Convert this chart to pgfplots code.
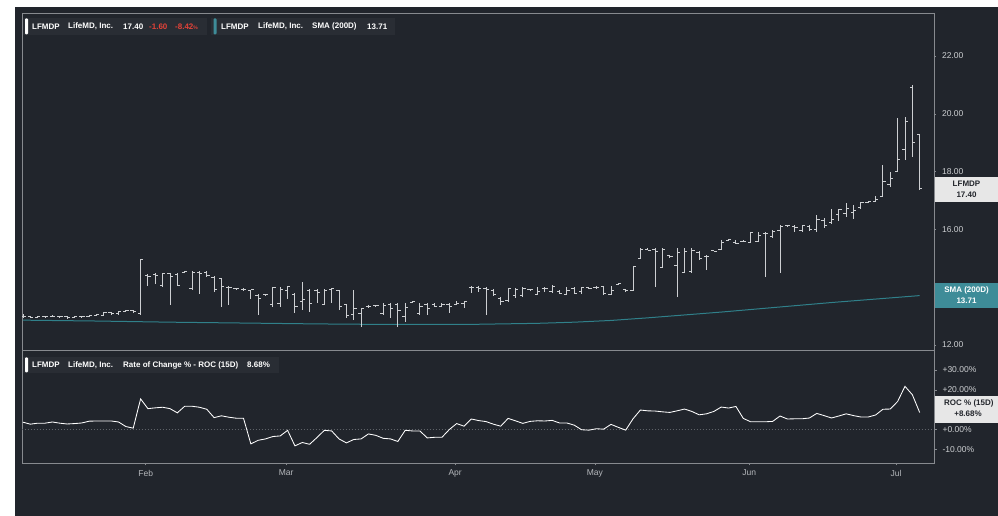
\documentclass[border=0pt]{standalone}
\usepackage{fontspec}
\setmainfont{Liberation Sans}
\usepackage{pgfplots}
\usepackage{pgfplotstable}
\pgfplotsset{compat=1.18}
\definecolor{bg}{RGB}{33,37,44}
\definecolor{legbg}{RGB}{41,45,52}
\definecolor{framecol}{RGB}{135,138,143}
\definecolor{barcol}{RGB}{205,207,210}
\definecolor{ticktext}{RGB}{205,207,210}
\definecolor{monthcol}{RGB}{180,183,187}
\definecolor{tealbox}{RGB}{62,140,152}
\definecolor{smaline}{RGB}{48,128,138}
\definecolor{negred}{RGB}{226,66,56}
\definecolor{lblbox}{RGB}{231,231,231}
\definecolor{lbltext}{RGB}{35,38,44}
\definecolor{zerocol}{RGB}{95,99,105}

\pgfplotstableread{
i o h l c
0 13.00 13.08 12.95 12.98
1 12.98 13.00 12.94 12.96
2 12.96 13.02 12.95 13.00
3 13.00 13.02 12.96 12.98
4 12.98 13.03 12.96 13.00
5 13.00 13.02 12.95 12.98
6 12.98 12.99 12.90 12.97
7 12.97 13.02 12.95 13.00
8 13.00 13.01 12.94 12.99
9 12.99 13.03 12.97 13.02
10 13.02 13.06 13.00 13.05
11 13.02 13.14 13.00 13.12
12 13.12 13.14 13.05 13.10
13 13.08 13.18 13.05 13.15
14 13.15 13.22 13.14 13.18
15 13.18 13.20 13.10 13.17
16 13.10 14.97 13.04 14.95
17 14.42 14.45 14.05 14.38
18 14.45 14.48 14.10 14.41
19 14.05 14.50 14.00 14.47
20 14.48 14.50 13.40 14.36
21 14.45 14.50 14.05 14.07
22 14.50 14.55 14.48 14.53
23 13.95 14.55 13.90 14.52
24 14.50 14.55 13.75 14.49
25 14.52 14.55 14.38 14.39
26 14.35 14.38 13.85 13.92
27 14.30 14.32 13.32 14.02
28 14.00 14.05 13.40 13.98
29 13.96 13.98 13.90 13.94
30 13.93 13.96 13.88 13.93
31 13.90 13.92 13.60 13.91
32 13.70 13.78 13.05 13.62
33 13.75 13.78 13.70 13.75
34 13.40 14.00 13.30 13.98
35 13.45 14.00 13.30 13.91
36 13.90 14.05 13.60 14.03
37 13.75 13.80 13.10 13.35
38 13.50 14.18 13.21 13.59
39 13.90 13.95 13.15 13.43
40 13.90 13.95 13.45 13.83
41 13.40 13.95 13.40 13.88
42 13.92 13.96 13.45 13.94
43 13.90 13.92 13.20 13.34
44 13.40 13.42 12.95 13.02
45 13.05 13.90 12.87 13.25
46 13.10 13.28 12.62 13.27
47 13.35 13.39 13.30 13.33
48 13.38 13.40 13.33 13.37
49 13.10 13.46 13.04 13.38
50 13.40 13.46 12.95 13.27
51 13.40 13.46 12.62 13.20
52 13.00 13.46 12.80 13.31
53 13.48 13.52 13.44 13.51
54 13.10 13.46 13.05 13.35
55 13.40 13.46 13.05 13.26
56 13.40 13.46 13.30 13.35
57 13.35 13.46 13.30 13.41
58 13.40 13.46 13.12 13.35
59 13.40 13.52 13.40 13.42
60 13.45 13.52 13.28 13.49
61 14.00 14.05 13.80 13.99
62 14.00 14.03 13.85 13.94
63 13.95 14.00 13.04 13.92
64 13.90 13.95 13.70 13.75
65 13.60 13.65 13.40 13.51
66 13.55 13.95 13.49 13.95
67 13.70 13.98 13.63 13.91
68 13.70 14.00 13.65 13.94
69 13.92 13.95 13.90 13.91
70 13.75 14.00 13.72 13.86
71 13.95 14.00 13.85 13.94
72 13.85 14.08 13.80 14.04
73 13.85 13.90 13.75 13.80
74 13.75 14.00 13.72 13.88
75 13.95 14.00 13.75 13.80
76 13.85 14.00 13.78 13.99
77 14.00 14.02 13.95 13.96
78 14.00 14.05 13.95 13.99
79 14.02 14.05 13.72 13.79
80 13.75 14.05 13.72 13.87
81 14.10 14.16 14.08 14.12
82 13.92 13.95 13.86 13.88
83 13.90 14.72 13.88 14.71
84 15.00 15.34 14.98 15.29
85 15.30 15.34 15.28 15.28
86 15.30 15.34 14.00 15.25
87 14.70 15.34 14.67 15.30
88 15.10 15.12 15.00 15.05
89 14.75 15.34 13.66 15.20
90 14.50 15.34 14.50 15.24
91 14.55 15.34 14.50 15.28
92 15.20 15.25 14.95 14.98
93 15.05 15.10 14.60 15.08
94 15.28 15.30 15.25 15.25
95 15.30 15.64 15.28 15.55
96 15.62 15.66 15.60 15.64
97 15.55 15.62 15.50 15.52
98 15.60 15.62 15.58 15.58
99 15.55 15.92 15.54 15.90
100 15.60 15.92 15.55 15.80
101 15.85 15.92 14.36 15.86
102 15.75 15.98 15.70 15.94
103 15.95 16.16 14.50 16.10
104 16.14 16.16 16.10 16.12
105 16.10 16.16 15.90 16.08
106 15.95 16.16 15.90 16.12
107 16.10 16.16 15.95 16.01
108 16.00 16.50 15.92 16.35
109 16.30 16.40 16.05 16.13
110 16.25 16.70 16.20 16.36
111 16.50 16.72 16.30 16.68
112 16.55 16.90 16.44 16.74
113 16.60 16.85 16.35 16.65
114 16.75 16.95 16.70 16.92
115 16.93 16.96 16.90 16.95
116 16.95 17.16 16.95 17.05
117 17.15 18.24 17.13 17.65
118 17.55 18.00 17.48 17.75
119 18.00 19.86 18.00 18.41
120 18.76 19.90 18.41 19.74
121 20.90 21.00 18.50 19.00
122 19.28 19.30 17.37 17.40
}\ohlc

\pgfplotstableread{
i s
0 12.86
10 12.83
20 12.79
30 12.76
40 12.73
50 12.71
60 12.71
70 12.75
75 12.79
80 12.85
85 12.94
90 13.04
95 13.14
100 13.25
105 13.36
110 13.47
115 13.57
120 13.67
122 13.71
}\sma

\pgfplotstableread{
i r
0 3.8
1 2.8
2 3.3
3 3.3
4 3.9
5 3.3
6 2.9
7 3.1
8 3.4
9 4.3
10 4.4
11 4.4
12 4.4
13 3.9
14 1.6
15 0.8
16 15.5
17 10.6
18 11.0
19 11.3
20 10.6
21 8.5
22 11.8
23 11.8
24 11.3
25 10.3
26 6.1
27 7.0
28 6.3
29 5.8
30 5.8
31 -7.1
32 -5.3
33 -4.6
34 -3.4
35 -3.1
36 -0.3
37 -8.1
38 -6.4
39 -7.3
40 -3.9
41 -0.3
42 -0.6
43 -4.6
44 -6.6
45 -4.9
46 -4.6
47 -2.1
48 -2.8
49 -4.3
50 -4.6
51 -5.9
52 -0.3
53 -0.6
54 -0.6
55 -4.1
56 -3.8
57 -3.8
58 0.1
59 3.1
60 1.8
61 5.4
62 4.6
63 4.1
64 2.8
65 1.8
66 5.7
67 4.5
68 3.2
69 4.2
70 4.5
71 4.4
72 4.7
73 3.4
74 3.4
75 2.3
76 0.0
77 -0.2
78 0.5
79 0.3
80 2.7
81 1.2
82 -0.2
83 5.5
84 9.9
85 9.5
86 9.4
87 9.0
88 8.7
89 9.5
90 10.4
91 9.2
92 7.5
93 8.0
94 9.2
95 11.4
96 10.9
97 11.7
98 5.7
99 4.0
100 4.0
101 4.0
102 4.2
103 6.9
104 5.4
105 5.5
106 5.5
107 5.9
108 8.2
109 7.1
110 5.9
111 6.9
112 8.0
113 7.1
114 6.4
115 6.4
116 7.4
117 10.3
118 10.4
119 14.2
120 21.8
121 17.6
122 8.68
}\roc

\begin{document}
\begin{tikzpicture}
\useasboundingbox (0pt,0pt) rectangle (998pt,516pt);
\begin{scope}[x=1pt,y=1pt]
\fill[white] (0,0) rectangle (998,516);
\fill[bg] (15,0) rectangle (998,509);
\end{scope}

% ---------- price panel ----------
\begin{axis}[
  at={(22pt,165.5pt)}, anchor=south west, scale only axis,
  width=912pt, height=337.5pt,
  xmin=-0.136, xmax=123.95, ymin=11.81, ymax=23.49,
  axis line style={draw=framecol, line width=0.8pt},
  xtick=\empty,
  ytick={12,16,18,20,22},
  yticklabels={12.00,16.00,18.00,20.00,22.00},
  ytick pos=right, yticklabel pos=right,
  tick align=outside, major tick length=2pt,
  tick style={draw=framecol, line width=0.6pt},
  yticklabel style={anchor=west, font=\fontsize{8.5}{10}\selectfont, text=ticktext, xshift=2.5pt},
]
\addplot[smaline, line width=1pt, mark=none] table[x=i, y=s] {\sma};
\addplot[draw=none, mark=none,
  error bars/.cd, y dir=both, y explicit, error mark=none,
  error bar style={draw=barcol, line width=0.95pt}]
  table[x=i, y=c, y error plus expr={\thisrow{h}-\thisrow{c}}, y error minus expr={\thisrow{c}-\thisrow{l}}] {\ohlc};
\addplot[draw=none, mark=none,
  error bars/.cd, x dir=minus, x fixed=0.38, error mark=none,
  error bar style={draw=barcol, line width=0.95pt}]
  table[x=i, y=o] {\ohlc};
\addplot[draw=none, mark=none,
  error bars/.cd, x dir=plus, x fixed=0.38, error mark=none,
  error bar style={draw=barcol, line width=0.95pt}]
  table[x=i, y=c] {\ohlc};
\end{axis}

% ---------- ROC panel ----------
\begin{axis}[
  at={(22pt,53pt)}, anchor=south west, scale only axis,
  width=912pt, height=112.5pt,
  xmin=-0.136, xmax=123.95, ymin=-16.7, ymax=39.8,
  axis line style={draw=framecol, line width=0.8pt},
  xtick={16.7,35.8,58.8,77.8,98.8,118.8},
  xticklabels={Feb,Mar,Apr,May,Jun,Jul},
  xtick pos=bottom,
  xticklabel style={font=\fontsize{8.5}{10}\selectfont, text=monthcol, yshift=-1pt},
  ytick={-10,0,20,30},
  yticklabels={-10.00\%,+0.00\%,+20.00\%,+30.00\%},
  ytick pos=right, yticklabel pos=right,
  tick align=outside, major tick length=2.5pt,
  tick style={draw=framecol, line width=0.6pt},
  yticklabel style={anchor=west, font=\fontsize{8.5}{10}\selectfont, text=ticktext, xshift=2.5pt},
]
\addplot[zerocol, dash pattern=on 1pt off 2pt, line width=0.6pt, mark=none] coordinates {(-1,0) (125,0)};
\addplot[white, line width=0.85pt, mark=none] table[x=i, y=r] {\roc};
\end{axis}

\begin{scope}[x=1pt,y=1pt]
% ---------- legends ----------
\begin{scope}[every node/.style={inner sep=0pt, anchor=west, font=\bfseries\fontsize{8}{9}\selectfont}]
  \fill[legbg] (23,481) rectangle (207,498);
  \fill[white, rounded corners=1pt] (25,481.5) rectangle (28,497.5);
  \node[text=white] at (32,489.5) {LFMDP};
  \node[text=white] at (68,489.5) {LifeMD, Inc.};
  \node[text=white] at (123,489.5) {17.40};
  \node[text=negred] at (149,489.5) {-1.60};
  \node[text=negred] at (175,489.5) {-8.42{\fontsize{5}{6}\selectfont\%}};
  \fill[legbg] (211,481) rectangle (395,498);
  \fill[tealbox, rounded corners=1pt] (213.5,481.5) rectangle (216.5,497.5);
  \node[text=white] at (221,489.5) {LFMDP};
  \node[text=white] at (258,489.5) {LifeMD, Inc.};
  \node[text=white] at (312,489.5) {SMA (200D)};
  \node[text=white] at (367,489.5) {13.71};
  \fill[legbg] (23,143) rectangle (279,159);
  \fill[white, rounded corners=1pt] (25,143.5) rectangle (28,158.5);
  \node[text=white] at (32,151) {LFMDP};
  \node[text=white] at (68,151) {LifeMD, Inc.};
  \node[text=white] at (123,151) {Rate of Change \% - ROC (15D)};
  \node[text=white] at (247,151) {8.68\%};
\end{scope}

% ---------- right value labels ----------
\begin{scope}
  \clip (0,0) rectangle (998,516);
  \fill[lblbox] (935,314) rectangle (998,339);
  \node[inner sep=0pt, text=lbltext, font=\bfseries\fontsize{8}{9}\selectfont] at (966.5,332) {LFMDP};
  \node[inner sep=0pt, text=lbltext, font=\bfseries\fontsize{8}{9}\selectfont] at (966.5,321) {17.40};
  \fill[tealbox] (935,208) rectangle (998,233);
  \node[inner sep=0pt, text=white, font=\bfseries\fontsize{8}{9}\selectfont] at (966.5,226) {SMA (200D)};
  \node[inner sep=0pt, text=white, font=\bfseries\fontsize{8}{9}\selectfont] at (966.5,215.5) {13.71};
  \fill[lblbox] (935,93) rectangle (998,120);
  \node[inner sep=0pt, text=lbltext, font=\bfseries\fontsize{8}{9}\selectfont, anchor=west] at (944,113) {ROC \% (15D)};
  \node[inner sep=0pt, text=lbltext, font=\bfseries\fontsize{8}{9}\selectfont] at (968,102.5) {+8.68\%};
\end{scope}
\end{scope}
\end{tikzpicture}
\end{document}
